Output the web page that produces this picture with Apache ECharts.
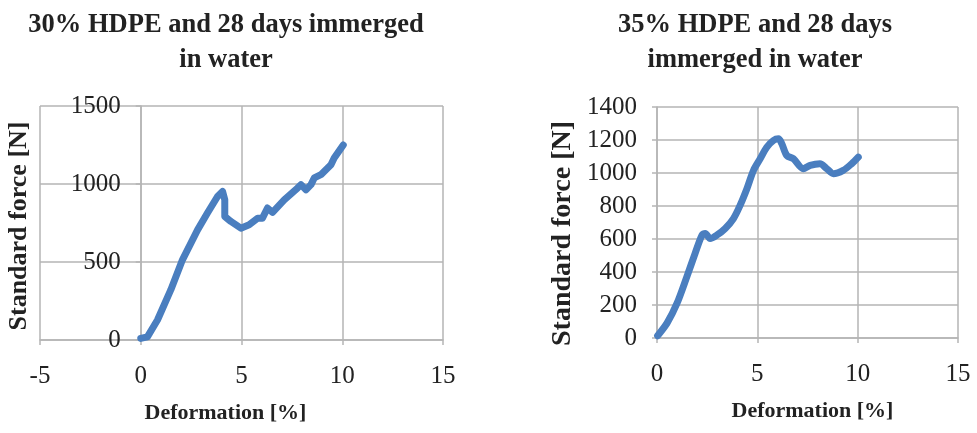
<!DOCTYPE html>
<html>
<head>
<meta charset="utf-8">
<script src="https://cdn.jsdelivr.net/npm/echarts@6/dist/echarts.min.js"></script>
<style>
  html, body { margin: 0; padding: 0; background: #fff; }
  #chart { width: 977px; height: 433px; }
</style>
</head>
<body>
<div id="chart"></div>
<script>
// 30% HDPE, 28 days in water: [deformation %, force N]
const hdpe30 = [
  [0, 10], [0.33, 20], [0.83, 128], [1.49, 321], [2.07, 514], [2.82, 706],
  [3.31, 814], [3.81, 920], [4.06, 952], [4.17, 899], [4.17, 792], [4.47, 760],
  [4.97, 717], [5.38, 739], [5.8, 781], [6.04, 781], [6.29, 846], [6.54, 818],
  [7.12, 899], [7.78, 974], [7.95, 996], [8.2, 963], [8.45, 996], [8.61, 1039],
  [8.94, 1060], [9.44, 1124], [9.6, 1167], [10.05, 1250]
]
// 35% HDPE, 28 days in water
const hdpe35 = [
  [0.03, 14], [0.5, 90], [1.0, 211], [1.49, 372], [1.9, 513], [2.24, 623],
  [2.4, 634], [2.65, 603], [2.98, 623], [3.4, 664], [3.81, 724], [4.14, 804],
  [4.48, 905], [4.81, 1016], [5.14, 1086], [5.47, 1156], [5.8, 1197], [6.05, 1207],
  [6.22, 1177], [6.47, 1106], [6.8, 1086], [7.29, 1026], [7.63, 1046], [8.12, 1056],
  [8.46, 1026], [8.79, 996], [9.28, 1016], [9.7, 1056], [10.03, 1096]
]

const titles = ['30% HDPE and 28 days immerged\nin water', '35% HDPE and 28 days\nimmerged in water']
const xName = 'Deformation [%]'
const yName = 'Standard force [N]'

const serif = 'Liberation Serif'
const gridColor = '#b5b5b5'
const lineColor = '#4a7ebf'

const makeX = (idx, min, gap, shift) => ({
  type: 'value',
  gridIndex: idx,
  min: min,
  max: 15,
  interval: 5,
  name: xName,
  nameLocation: 'middle',
  nameGap: gap,
  nameTextStyle: {
    fontFamily: serif, fontWeight: 'bold', fontSize: 22, color: '#222',
    padding: shift > 0 ? [0, 0, 0, shift * 2] : [0, -shift * 2, 0, 0]
  },
  axisLine: { show: true, lineStyle: { color: gridColor, width: 1.5 } },
  axisTick: { show: true, length: 5, lineStyle: { color: gridColor, width: 1.5 } },
  axisLabel: { fontFamily: serif, fontSize: 25, color: '#222', margin: 24, formatter: v => String(v) },
  splitLine: { show: true, lineStyle: { color: gridColor, width: 1.5 } }
})

// the y axis crosses at x = 0, so it is shifted into the plot with a negative offset
const makeY = (idx, max, interval, gap, nameSize, offset, namePad) => ({
  type: 'value',
  gridIndex: idx,
  min: 0,
  max: max,
  interval: interval,
  offset: offset,
  name: yName,
  nameLocation: 'middle',
  nameGap: gap,
  nameTextStyle: { fontFamily: serif, fontWeight: 'bold', fontSize: nameSize, color: '#222', padding: namePad },
  axisLine: { show: true, onZero: false, lineStyle: { color: gridColor, width: 1.5 } },
  axisTick: { show: true, length: 5, lineStyle: { color: gridColor, width: 1.5 } },
  axisLabel: { fontFamily: serif, fontSize: 25, color: '#222', margin: 20, formatter: v => String(v) },
  splitLine: { show: true, lineStyle: { color: gridColor, width: 1.5 } }
})

const option = {
  animation: false,
  backgroundColor: '#fff',
  title: [
    {
      text: titles[0], left: 221, top: 3, textAlign: 'center',
      textStyle: { fontFamily: serif, fontWeight: 'bold', fontSize: 26.5, lineHeight: 35, color: '#222' }
    },
    {
      text: titles[1], left: 750, top: 3, textAlign: 'center',
      textStyle: { fontFamily: serif, fontWeight: 'bold', fontSize: 26.5, lineHeight: 35, color: '#222' }
    }
  ],
  grid: [
    { left: 40, right: 534, top: 106, bottom: 93, outerBoundsMode: 'none' },
    { left: 657, right: 19, top: 107, bottom: 95, outerBoundsMode: 'none' }
  ],
  xAxis: [makeX(0, -5, 62, -16), makeX(1, 0, 62, 5)],
  yAxis: [
    makeY(0, 1500, 500, 108, 26, -100.75, [0, 6, 0, 0]),
    makeY(1, 1400, 200, 80, 28, 0, [0, 22, 0, 0])
  ],
  series: [
    {
      type: 'line', xAxisIndex: 0, yAxisIndex: 0, data: hdpe30,
      showSymbol: false, smooth: false,
      lineStyle: { color: lineColor, width: 7, cap: 'round', join: 'round' }
    },
    {
      type: 'line', xAxisIndex: 1, yAxisIndex: 1, data: hdpe35,
      showSymbol: false, smooth: 0.3,
      lineStyle: { color: lineColor, width: 7, cap: 'round', join: 'round' }
    }
  ]
}

const chart = echarts.init(document.getElementById('chart'))
chart.setOption(option)
</script>
</body>
</html>
